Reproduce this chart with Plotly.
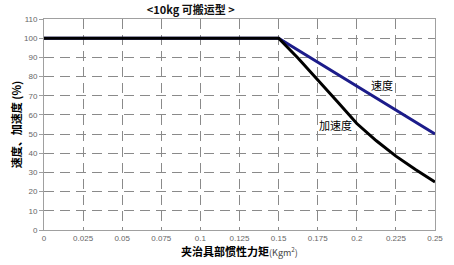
import plotly.graph_objects as go

# Data
speed_x = [0, 0.15, 0.25]
speed_y = [100, 100, 50]
accel_x = [0, 0.15, 0.1625, 0.175, 0.1875, 0.2, 0.2125, 0.225, 0.2375, 0.25]
accel_y = [100, 100, 89.5, 78.5, 67, 55.5, 46.5, 38.5, 31.5, 25]
x_ticks = [0, 0.025, 0.05, 0.075, 0.1, 0.125, 0.15, 0.175, 0.2, 0.225, 0.25]
x_tick_labels = ["0", "0.025", "0.05", "0.075", "0.1", "0.125", "0.15", "0.175", "0.2", "0.225", "0.25"]
y_ticks = [0, 10, 20, 30, 40, 50, 60, 70, 80, 90, 100, 110]

CJK = "Noto Sans CJK SC"

fig = go.Figure()
fig.add_trace(go.Scatter(x=speed_x, y=speed_y, mode="lines",
                         line=dict(color="#1c1c8a", width=3), showlegend=False))
fig.add_trace(go.Scatter(x=accel_x, y=accel_y, mode="lines",
                         line=dict(color="#000000", width=3), showlegend=False))

fig.add_annotation(x=0.2162, y=75.6, text="速度", showarrow=False,
                   font=dict(family=CJK, size=11, color="#000"))
fig.add_annotation(x=0.1864, y=54.7, text="加速度", showarrow=False,
                   font=dict(family=CJK, size=11, color="#000"))

fig.update_layout(
    width=454, height=265,
    margin=dict(l=44, r=11, t=19, b=35),
    paper_bgcolor="white", plot_bgcolor="white",
    title=dict(text="<b>&lt;10kg 可搬运型 &gt;</b>", x=0.42, xanchor="center", y=0.962, yanchor="middle",
               font=dict(family=CJK, size=11, color="#111")),
    xaxis=dict(range=[0, 0.25], tickvals=x_ticks, ticktext=x_tick_labels,
               showgrid=True, gridcolor="#8a8a8a", griddash="10px,6px", gridwidth=1,
               showline=True, linecolor="#a0a0a0", linewidth=1, mirror=True,
               ticks="", tickfont=dict(family="Liberation Sans", size=8, color="#666"),
               zeroline=False,
               title=dict(text="<b>夹治具部惯性力矩</b><span style='font-size:9px;color:#444'>(Kgm<sup>2</sup>)</span>",
                          font=dict(family=CJK, size=11, color="#000"), standoff=4)),
    yaxis=dict(range=[0, 110], tickvals=y_ticks,
               showgrid=True, gridcolor="#8a8a8a", griddash="10px,6px", gridwidth=1,
               showline=True, linecolor="#a0a0a0", linewidth=1, mirror=True,
               ticks="outside", ticklen=4, tickcolor="#a0a0a0",
               tickfont=dict(family="Liberation Sans", size=8, color="#666"),
               zeroline=False,
               title=dict(text="<b>速度、加速度 (%)</b>",
                          font=dict(family=CJK, size=11, color="#000"), standoff=0)),
)

fig.write_html("out.html")
